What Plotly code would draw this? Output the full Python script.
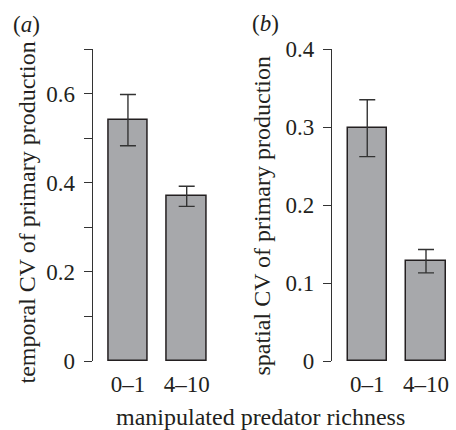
import plotly.graph_objects as go

# ---- data ----
categories = ["0–1", "4–10"]
temporal_cv = [0.540, 0.370]
temporal_err_plus = [0.058, 0.022]
temporal_err_minus = [0.057, 0.023]
spatial_cv = [0.299, 0.128]
spatial_err_plus = [0.036, 0.015]
spatial_err_minus = [0.037, 0.015]
ya_tickvals = [0, 0.1, 0.2, 0.3, 0.4, 0.5, 0.6, 0.7]
ya_ticktext = ["0", "", "0.2", "", "0.4", "", "0.6", ""]
yb_tickvals = [0, 0.1, 0.2, 0.3, 0.4]
yb_ticktext = ["0", "0.1", "0.2", "0.3", "0.4"]

W, H = 456, 430
FONT = "Liberation Serif, Times New Roman, serif"
TXT = "#231f20"
BAR_FILL = "#a7a8ab"
EDGE = "#231f20"
TITLE_SIZE = 24

def px_x(p):
    return p / W

def px_y(p):
    return 1 - p / H

fig = go.Figure()

fig.add_trace(go.Bar(
    x=categories, y=temporal_cv, xaxis="x", yaxis="y", width=0.667,
    marker=dict(color=BAR_FILL, line=dict(color=EDGE, width=1.5)),
    error_y=dict(type="data", array=temporal_err_plus, arrayminus=temporal_err_minus,
                 color="#333333", thickness=1.4, width=8),
    showlegend=False,
))
fig.add_trace(go.Bar(
    x=categories, y=spatial_cv, xaxis="x2", yaxis="y2", width=0.667,
    marker=dict(color=BAR_FILL, line=dict(color=EDGE, width=1.5)),
    error_y=dict(type="data", array=spatial_err_plus, arrayminus=spatial_err_minus,
                 color="#333333", thickness=1.4, width=8),
    showlegend=False,
))

ydom = [69 / H, 381 / H]
xa_dom = [92.7 / W, 210.2 / W]
xb_dom = [332 / W, 449.5 / W]

common_x = dict(type="category", range=[-0.6, 1.4], showline=False, showgrid=False,
                zeroline=False, ticks="", tickfont=dict(family=FONT, size=23, color=TXT),
                ticklabelstandoff=7, fixedrange=True, automargin=False)
common_y = dict(showline=True, linecolor="#333333", linewidth=1.3, showgrid=False,
                zeroline=False, ticks="outside", ticklen=8, tickwidth=1.3, tickcolor="#333333",
                tickfont=dict(family=FONT, size=23, color=TXT), ticklabelstandoff=4,
                tickmode="array", fixedrange=True, automargin=False)

fig.update_layout(
    template="none",
    width=W, height=H, autosize=False,
    margin=dict(l=0, r=0, t=0, b=0, pad=0),
    paper_bgcolor="white", plot_bgcolor="white",
    font=dict(family=FONT, size=23, color=TXT),
    bargap=0,
    xaxis=dict(domain=xa_dom, anchor="y", **common_x),
    xaxis2=dict(domain=xb_dom, anchor="y2", **common_x),
    yaxis=dict(domain=ydom, anchor="x", range=[0, 0.7], tickvals=ya_tickvals,
               ticktext=ya_ticktext, **common_y),
    yaxis2=dict(domain=ydom, anchor="x2", range=[0, 0.4], tickvals=yb_tickvals,
                ticktext=yb_ticktext, **common_y),
    annotations=[
        dict(text="(<i>a</i>)", x=px_x(26), y=px_y(25), xref="paper", yref="paper",
             xanchor="center", yanchor="middle", showarrow=False,
             font=dict(family=FONT, size=23, color=TXT)),
        dict(text="(<i>b</i>)", x=px_x(265), y=px_y(23), xref="paper", yref="paper",
             xanchor="center", yanchor="middle", showarrow=False,
             font=dict(family=FONT, size=23, color=TXT)),
        dict(text="temporal CV of primary production", x=px_x(26), y=px_y(212.5),
             xref="paper", yref="paper", xanchor="center", yanchor="middle",
             textangle=-90, showarrow=False, font=dict(family=FONT, size=TITLE_SIZE, color=TXT)),
        dict(text="spatial CV of primary production", x=px_x(261), y=px_y(215.5),
             xref="paper", yref="paper", xanchor="center", yanchor="middle",
             textangle=-90, showarrow=False, font=dict(family=FONT, size=TITLE_SIZE, color=TXT)),
        dict(text="manipulated predator richness", x=px_x(260.5), y=px_y(417),
             xref="paper", yref="paper", xanchor="center", yanchor="middle",
             showarrow=False, font=dict(family=FONT, size=TITLE_SIZE, color=TXT)),
    ],
)

fig.write_html(
    "out.html",
    config={"responsive": False, "displayModeBar": False},
    post_script="document.body.style.margin='0';document.body.style.overflow='hidden';",
)
